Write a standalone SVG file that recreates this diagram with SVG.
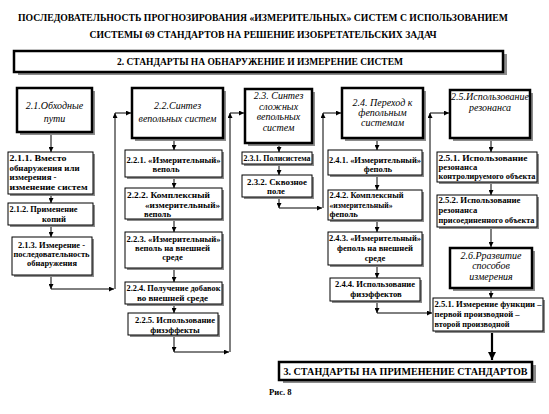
<svg xmlns="http://www.w3.org/2000/svg" width="549" height="414" viewBox="0 0 549 414">
<style>
.sh{fill:#8c8c8c}
.hb{fill:#fff;stroke:#000;stroke-width:2.5}
.bx{fill:#fff;stroke:#000;stroke-width:1}
.t{font-family:"Liberation Serif","Times New Roman",serif;font-weight:bold;font-size:8.6px;fill:#000}
.m{text-anchor:middle}
.h{font-family:"Liberation Serif","Times New Roman",serif;font-style:italic;font-size:10px;text-anchor:middle;fill:#000}
.tt{font-family:"Liberation Serif","Times New Roman",serif;font-weight:bold;font-size:10px;text-anchor:middle;fill:#000}
.c{stroke:#000;stroke-width:1;fill:none;marker-end:url(#a)}
.ct{stroke:#000;stroke-width:2.2;fill:none;marker-end:url(#b)}
</style>
<defs>
<marker id="a" viewBox="0 0 6 6" refX="6" refY="3" markerWidth="5" markerHeight="5" markerUnits="userSpaceOnUse" orient="auto"><path d="M0,0L6,3L0,6z" fill="#000"/></marker>
<marker id="b" viewBox="0 0 6 6" refX="6" refY="3" markerWidth="8" markerHeight="8" markerUnits="userSpaceOnUse" orient="auto"><path d="M0,0L6,3L0,6z" fill="#000"/></marker>
</defs>
<rect width="549" height="414" fill="#fff"/>
<g id="title">
<text class="tt" x="263" y="21" textLength="490" lengthAdjust="spacingAndGlyphs">ПОСЛЕДОВАТЕЛЬНОСТЬ ПРОГНОЗИРОВАНИЯ «ИЗМЕРИТЕЛЬНЫХ» СИСТЕМ С ИСПОЛЬЗОВАНИЕМ</text>
<text class="tt" x="263" y="38" textLength="347" lengthAdjust="spacingAndGlyphs">СИСТЕМЫ 69 СТАНДАРТОВ НА РЕШЕНИЕ ИЗОБРЕТАТЕЛЬСКИХ ЗАДАЧ</text>
</g>
<g id="banner2">
<rect class="sh" x="18" y="54" width="489" height="21"/>
<rect class="hb" x="14" y="51" width="489" height="21"/>
<text class="tt" x="260" y="65" font-size="9.5" textLength="286" lengthAdjust="spacingAndGlyphs">2. СТАНДАРТЫ НА ОБНАРУЖЕНИЕ И ИЗМЕРЕНИЕ СИСТЕМ</text>
</g>
<g id="connectors">
<path class="c" d="M51,132V152"/>
<path class="c" d="M51,194V203"/>
<path class="c" d="M51,225V237"/>
<path class="c" d="M51,275V289"/>
<path class="c" d="M51,289H114"/>
<path class="c" d="M115,289V113"/>
<path class="c" d="M115,113H131"/>
<path class="c" d="M174,138V150"/>
<path class="c" d="M174,177V188"/>
<path class="c" d="M174,219V232"/>
<path class="c" d="M174,268V282"/>
<path class="c" d="M174,304V313"/>
<path class="c" d="M174,335V352"/>
<path class="c" d="M174,352H229"/>
<path class="c" d="M230,352V113"/>
<path class="c" d="M230,113H244"/>
<path class="c" d="M279,143V152"/>
<path class="c" d="M279,164V175"/>
<path class="c" d="M279,197V208"/>
<path class="c" d="M279,208H322"/>
<path class="c" d="M323,208V113"/>
<path class="c" d="M323,113H341"/>
<path class="c" d="M377,138V150"/>
<path class="c" d="M377,175V190"/>
<path class="c" d="M377,220V232"/>
<path class="c" d="M377,265V278"/>
<path class="c" d="M377,301V313"/>
<path class="c" d="M377,313H432"/>
<path class="c" d="M430,313V113"/>
<path class="c" d="M430,113H449"/>
<path class="c" d="M491,138V152"/>
<path class="c" d="M491,182V195"/>
<path class="c" d="M491,227V247"/>
<path class="c" d="M491,288V298"/>
<path class="ct" d="M492,331V360"/>
</g>
<g id="n2-1">
<rect class="sh" x="20" y="91" width="75" height="44"/>
<rect class="hb" x="17" y="88" width="75" height="44"/>
<text class="h" x="54.5" y="109">2.1.Обходные</text>
<text class="h" x="54.5" y="122">пути</text>
</g>
<g id="n2-1-1">
<rect class="sh" x="10" y="154" width="85" height="42"/>
<rect class="bx" x="8" y="152" width="85" height="42"/>
<text class="t" x="9.5" y="161" textLength="57" lengthAdjust="spacingAndGlyphs">2.1.1. Вместо</text>
<text class="t" x="9.5" y="170.5" textLength="70" lengthAdjust="spacingAndGlyphs">обнаружения или</text>
<text class="t" x="9.5" y="180" textLength="47" lengthAdjust="spacingAndGlyphs">измерения -</text>
<text class="t" x="9.5" y="189.5" textLength="78" lengthAdjust="spacingAndGlyphs">изменение систем</text>
</g>
<g id="n2-1-2">
<rect class="sh" x="10" y="205" width="85" height="22"/>
<rect class="bx" x="8" y="203" width="85" height="22"/>
<text class="t" x="9.5" y="212" textLength="68" lengthAdjust="spacingAndGlyphs">2.1.2. Применение</text>
<text class="t m" x="54" y="222">копий</text>
</g>
<g id="n2-1-3">
<rect class="sh" x="14" y="239" width="80" height="38"/>
<rect class="bx" x="12" y="237" width="80" height="38"/>
<text class="t" x="18" y="248" textLength="67" lengthAdjust="spacingAndGlyphs">2.1.3. Измерение -</text>
<text class="t" x="13.5" y="257" textLength="76" lengthAdjust="spacingAndGlyphs">последовательность</text>
<text class="t" x="27" y="266" textLength="50" lengthAdjust="spacingAndGlyphs">обнаружения</text>
</g>
<g id="n2-2">
<rect class="sh" x="135" y="91" width="91" height="50"/>
<rect class="hb" x="132" y="88" width="91" height="50"/>
<text class="h" x="177.5" y="109">2.2.Синтез</text>
<text class="h" x="177.5" y="122">вепольных систем</text>
</g>
<g id="n2-2-1">
<rect class="sh" x="127" y="152" width="97" height="27"/>
<rect class="bx" x="125" y="150" width="97" height="27"/>
<text class="t" x="126.5" y="163" textLength="94" lengthAdjust="spacingAndGlyphs">2.2.1. «Измерительный»</text>
<text class="t m" x="166" y="172">веполь</text>
</g>
<g id="n2-2-2">
<rect class="sh" x="127" y="190" width="97" height="31"/>
<rect class="bx" x="125" y="188" width="97" height="31"/>
<text class="t" x="127" y="198" textLength="83" lengthAdjust="spacingAndGlyphs">2.2.2. Комплексный</text>
<text class="t" x="145" y="208" textLength="75" lengthAdjust="spacingAndGlyphs">«измерительный»</text>
<text class="t" x="144" y="217">веполь</text>
</g>
<g id="n2-2-3">
<rect class="sh" x="127" y="234" width="97" height="36"/>
<rect class="bx" x="125" y="232" width="97" height="36"/>
<text class="t" x="126.5" y="242" textLength="94" lengthAdjust="spacingAndGlyphs">2.2.3. «Измерительный»</text>
<text class="t" x="135" y="251" textLength="75" lengthAdjust="spacingAndGlyphs">веполь на внешней</text>
<text class="t m" x="172.5" y="260">среде</text>
</g>
<g id="n2-2-4">
<rect class="sh" x="127" y="284" width="97" height="22"/>
<rect class="bx" x="125" y="282" width="97" height="22"/>
<text class="t" x="126.5" y="290.5" textLength="94" lengthAdjust="spacingAndGlyphs">2.2.4. Получение добавок</text>
<text class="t" x="137" y="300.5" textLength="71" lengthAdjust="spacingAndGlyphs">во внешней среде</text>
</g>
<g id="n2-2-5">
<rect class="sh" x="130" y="315" width="90" height="22"/>
<rect class="bx" x="128" y="313" width="90" height="22"/>
<text class="t" x="135" y="323" textLength="80" lengthAdjust="spacingAndGlyphs">2.2.5. Использование</text>
<text class="t m" x="175" y="333">физэффекты</text>
</g>
<g id="n2-3">
<rect class="sh" x="248" y="92" width="67" height="54"/>
<rect class="hb" x="245" y="89" width="67" height="54"/>
<text class="h" x="278.5" y="99">2.3. Синтез</text>
<text class="h" x="278.5" y="110">сложных</text>
<text class="h" x="278.5" y="120">вепольных</text>
<text class="h" x="278.5" y="131">систем</text>
</g>
<g id="n2-3-1">
<rect class="sh" x="244" y="154" width="70" height="12"/>
<rect class="bx" x="242" y="152" width="70" height="12"/>
<text class="t" x="243.5" y="161" textLength="67" lengthAdjust="spacingAndGlyphs">2.3.1. Полисистема</text>
</g>
<g id="n2-3-2">
<rect class="sh" x="244" y="177" width="70" height="22"/>
<rect class="bx" x="242" y="175" width="70" height="22"/>
<text class="t" x="247" y="185" textLength="60" lengthAdjust="spacingAndGlyphs">2.3.2. Сквозное</text>
<text class="t m" x="276" y="193.5">поле</text>
</g>
<g id="n2-4">
<rect class="sh" x="345" y="91" width="81" height="50"/>
<rect class="hb" x="342" y="88" width="81" height="50"/>
<text class="h" x="382.5" y="106">2.4. Переход к</text>
<text class="h" x="382.5" y="116">фепольным</text>
<text class="h" x="382.5" y="126">системам</text>
</g>
<g id="n2-4-1">
<rect class="sh" x="330" y="152" width="94" height="25"/>
<rect class="bx" x="328" y="150" width="94" height="25"/>
<text class="t" x="329" y="163" textLength="92" lengthAdjust="spacingAndGlyphs">2.4.1. «Измерительный»</text>
<text class="t m" x="378" y="172">феполь</text>
</g>
<g id="n2-4-2">
<rect class="sh" x="330" y="192" width="94" height="30"/>
<rect class="bx" x="328" y="190" width="94" height="30"/>
<text class="t" x="329.5" y="198" textLength="74" lengthAdjust="spacingAndGlyphs">2.4.2. Комплексный</text>
<text class="t" x="329.5" y="207.5" textLength="63" lengthAdjust="spacingAndGlyphs">«измерительный»</text>
<text class="t" x="329.5" y="217">феполь</text>
</g>
<g id="n2-4-3">
<rect class="sh" x="330" y="234" width="94" height="33"/>
<rect class="bx" x="328" y="232" width="94" height="33"/>
<text class="t" x="329" y="241" textLength="92" lengthAdjust="spacingAndGlyphs">2.4.3. «Измерительный»</text>
<text class="t" x="337" y="251" textLength="76" lengthAdjust="spacingAndGlyphs">феполь на внешней</text>
<text class="t m" x="375" y="261">среде</text>
</g>
<g id="n2-4-4">
<rect class="sh" x="332" y="280" width="90" height="23"/>
<rect class="bx" x="330" y="278" width="90" height="23"/>
<text class="t" x="335" y="287" textLength="80" lengthAdjust="spacingAndGlyphs">2.4.4. Использование</text>
<text class="t m" x="376" y="297">физэффектов</text>
</g>
<g id="n2-5">
<rect class="sh" x="453" y="93" width="80" height="48"/>
<rect class="hb" x="450" y="90" width="80" height="48"/>
<text class="h" x="490" y="100">2.5.Использование</text>
<text class="h" x="490" y="111">резонанса</text>
</g>
<g id="n2-5-1">
<rect class="sh" x="439" y="154" width="100" height="30"/>
<rect class="bx" x="437" y="152" width="100" height="30"/>
<text class="t" x="438.5" y="160.5" textLength="89" lengthAdjust="spacingAndGlyphs">2.5.1. Использование</text>
<text class="t" x="438.5" y="169.5">резонанса</text>
<text class="t" x="438.5" y="178.5" textLength="97" lengthAdjust="spacingAndGlyphs">контролируемого объекта</text>
</g>
<g id="n2-5-2">
<rect class="sh" x="439" y="197" width="100" height="32"/>
<rect class="bx" x="437" y="195" width="100" height="32"/>
<text class="t" x="438.5" y="203" textLength="82" lengthAdjust="spacingAndGlyphs">2.5.2. Использование</text>
<text class="t" x="438.5" y="213">резонанса</text>
<text class="t" x="438.5" y="222.5" textLength="96" lengthAdjust="spacingAndGlyphs">присоединенного объекта</text>
</g>
<g id="n2-6">
<rect class="sh" x="453" y="251" width="82" height="40"/>
<rect class="hb" x="450" y="248" width="82" height="40"/>
<text class="h" x="491" y="259">2.6.Рразвитие</text>
<text class="h" x="491" y="269">способов</text>
<text class="h" x="491" y="280">измерения</text>
</g>
<g id="n2-6-1">
<rect class="sh" x="435" y="300" width="110" height="33"/>
<rect class="bx" x="433" y="298" width="110" height="33"/>
<text class="t" x="434.5" y="307" textLength="107" lengthAdjust="spacingAndGlyphs">2.5.1. Измерение функции –</text>
<text class="t" x="434.5" y="317" textLength="85" lengthAdjust="spacingAndGlyphs">первой производной –</text>
<text class="t" x="434.5" y="327" textLength="75" lengthAdjust="spacingAndGlyphs">второй производной</text>
</g>
<g id="banner3">
<rect class="sh" x="283" y="365" width="253" height="18"/>
<rect class="hb" x="279" y="362" width="253" height="18"/>
<text class="tt" x="405.5" y="375" font-size="9.5" textLength="244" lengthAdjust="spacingAndGlyphs">3. СТАНДАРТЫ НА ПРИМЕНЕНИЕ СТАНДАРТОВ</text>
</g>
<text class="t" x="269" y="395" font-size="8">Рис. 8</text>
</svg>
